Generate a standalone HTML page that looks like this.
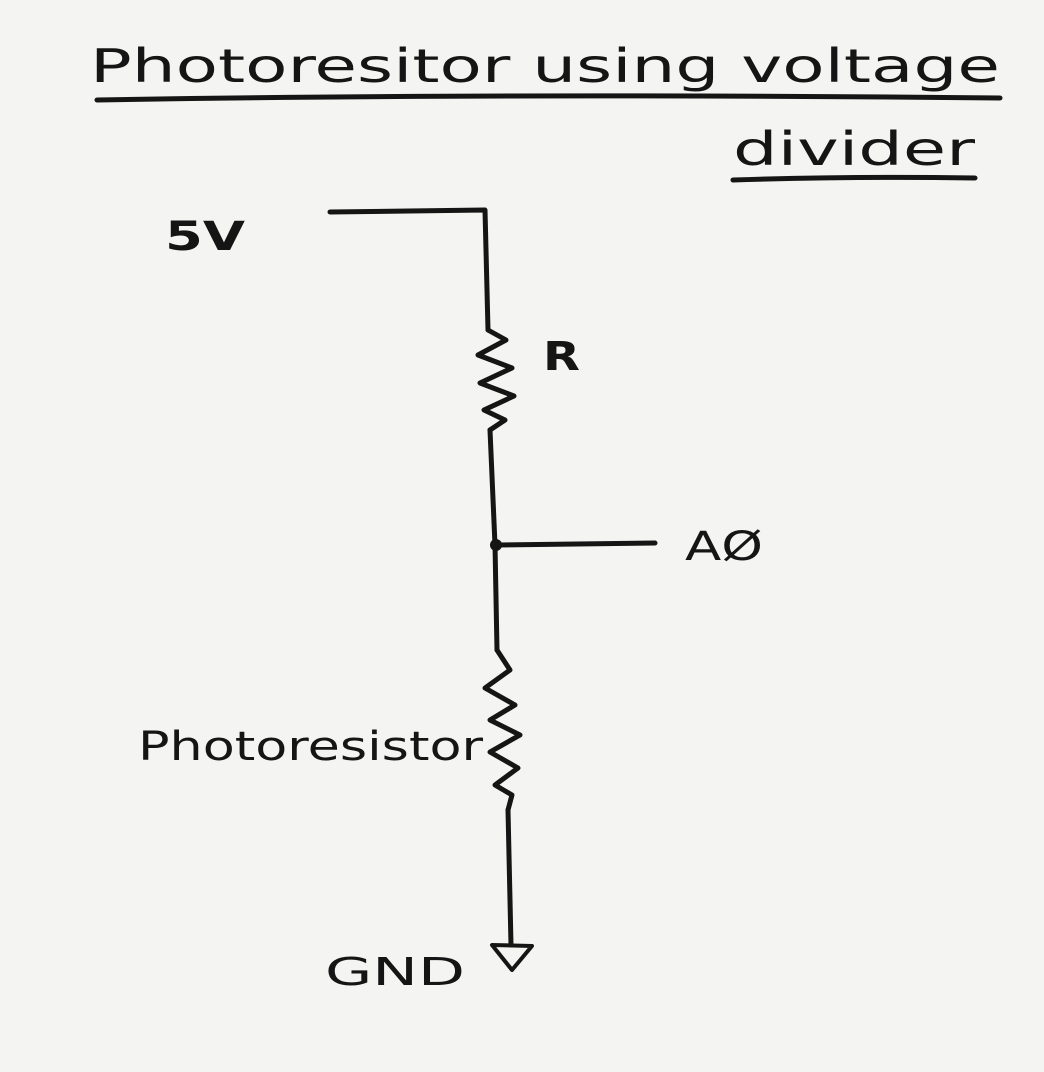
<!DOCTYPE html>
<html><head><meta charset="utf-8"><style>
html,body{margin:0;padding:0;background:#f4f4f2;}
svg{display:block;}
text{font-family:"DejaVu Sans","Liberation Sans",sans-serif;fill:#151515;}
</style></head><body>
<svg width="1044" height="1072" viewBox="0 0 1044 1072" xmlns="http://www.w3.org/2000/svg">
<rect width="1044" height="1072" fill="#f4f4f2"/>
<g fill="none" stroke="#151515" stroke-width="5" stroke-linecap="round" stroke-linejoin="round">
<path d="M97 100 Q500 93 1000 98"/>
<path d="M733 180 Q850 176 975 178"/>
<path d="M330 212 L485 210 L488 330"/>
<path d="M488 330 L506 340 L478 355 L512 368 L480 383 L514 396 L484 410 L505 420 L490 430"/>
<path d="M490 430 L495 545 L497 650"/>
<path d="M497 545 L655 543"/>
<path d="M497 650 L510 670 L485 688 L515 705 L490 720 L520 735 L490 752 L518 768 L495 785 L512 795 L508 810"/>
<path d="M508 810 L511 945"/>
<path d="M492 945 L532 946 L512 970 Z" stroke-width="4"/>
</g>
<circle cx="496" cy="545" r="6" fill="#151515"/>
<text x="90" y="82" font-size="46" textLength="910" lengthAdjust="spacingAndGlyphs">Photoresitor using voltage</text>
<text x="733" y="165" font-size="46" textLength="242" lengthAdjust="spacingAndGlyphs">divider</text>
<text x="165" y="250" font-size="40" font-weight="bold" textLength="80" lengthAdjust="spacingAndGlyphs">5V</text>
<text x="543" y="370" font-size="40" font-weight="bold" textLength="37" lengthAdjust="spacingAndGlyphs">R</text>
<text x="685" y="560" font-size="40" textLength="78" lengthAdjust="spacingAndGlyphs">AØ</text>
<text x="138" y="760" font-size="40" textLength="345" lengthAdjust="spacingAndGlyphs">Photoresistor</text>
<text x="325" y="985" font-size="38" textLength="140" lengthAdjust="spacingAndGlyphs">GND</text>
</svg>
</body></html>
